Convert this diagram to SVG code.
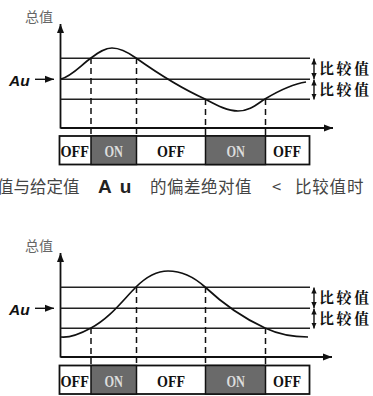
<svg xmlns="http://www.w3.org/2000/svg" width="373" height="396" viewBox="0 0 373 396">
<defs>
<marker id="ah" markerUnits="userSpaceOnUse" markerWidth="9" markerHeight="8" viewBox="0 0 9 8" refX="9" refY="4" orient="auto"><path d="M0,0.5 L9,4 L0,7.5 z" fill="#111"/></marker>
<marker id="sm" markerUnits="userSpaceOnUse" markerWidth="6" markerHeight="6" viewBox="0 0 6 6" refX="6" refY="3" orient="auto-start-reverse"><path d="M0,0.3 L6,3 L0,5.7 z" fill="#111"/></marker>
</defs>
<style>
.ax{stroke:#111;stroke-width:1.8;fill:none}
.hl{stroke:#222;stroke-width:1.5;fill:none}
.cv{stroke:#111;stroke-width:1.7;fill:none}
.ds{stroke:#111;stroke-width:1.5;stroke-dasharray:6 4;fill:none}
.da{stroke:#111;stroke-width:1.4;fill:none}
.yl{font-family:"Noto Sans CJK SC",sans-serif;font-size:14px;fill:#666}
.au{font-family:"Liberation Sans",sans-serif;font-size:15.5px;font-weight:bold;font-style:italic;fill:#111}
.cmp{font-family:"Noto Serif CJK SC","Noto Sans CJK SC",serif;font-size:15px;font-weight:bold;fill:#111;letter-spacing:2.5px}
.box{stroke:#111;stroke-width:1.8;fill:#fff}
.on{fill:#6a6a6a;stroke:#111;stroke-width:1.5}
.off{font-family:"Liberation Serif",serif;font-size:16px;font-weight:bold;fill:#111}
.ont{font-family:"Liberation Serif",serif;font-size:16px;font-weight:bold;fill:#ddd}
.mid{font-family:"Noto Sans CJK SC",sans-serif;font-size:16.5px;fill:#444}
</style>

<g id="diagram-top">
  <text class="yl" x="25" y="22">总值</text>
  <g id="axes-top">
    <line class="ax" x1="60.5" y1="128.5" x2="60.5" y2="24" marker-end="url(#ah)"/>
    <line class="ax" x1="60.5" y1="128" x2="333" y2="128" marker-end="url(#ah)"/>
  </g>
  <g id="levels-top">
    <line class="hl" x1="60.5" y1="58.3" x2="310" y2="58.3"/>
    <line class="hl" x1="60.5" y1="79.3" x2="310" y2="79.3"/>
    <line class="hl" x1="60.5" y1="99.3" x2="310" y2="99.3"/>
  </g>
  <path id="curve-top" class="cv" d="M61,79 C72,76 80,66 91,58 C99,52 105,48 112,48 C121,48 129,53 136,58 C160,75 185,90 205,99 C218,106 228,111 238,111 C250,111 257,104 265,99 C280,90 292,84 306,82"/>
  <g id="connectors-top">
    <line class="ds" x1="91" y1="58" x2="91" y2="136"/>
    <line class="ds" x1="136.5" y1="58" x2="136.5" y2="136"/>
    <line class="ds" x1="205.5" y1="99" x2="205.5" y2="136"/>
    <line class="ds" x1="265.5" y1="99" x2="265.5" y2="136"/>
    <line class="da" x1="35" y1="79.3" x2="54" y2="79.3" marker-end="url(#ah)"/>
    <line class="da" x1="314" y1="58.5" x2="314" y2="79" marker-start="url(#sm)" marker-end="url(#sm)"/>
    <line class="da" x1="314" y1="79.6" x2="314" y2="99.5" marker-start="url(#sm)" marker-end="url(#sm)"/>
  </g>
  <text id="au-top" class="au" x="9" y="86">Au</text>
  <text class="cmp" x="319" y="74">比较值</text>
  <text class="cmp" x="319" y="95">比较值</text>
  <g id="states-top">
    <rect class="box" x="59.5" y="136" width="250" height="28.5"/>
    <rect class="on" x="91" y="136" width="45.5" height="28.5"/>
    <rect class="on" x="205.5" y="136" width="60" height="28.5"/>
    <text class="off" x="60.5" y="156.5" textLength="28.5" lengthAdjust="spacingAndGlyphs">OFF</text>
    <text class="ont" x="104.5" y="156.5" textLength="18.5" lengthAdjust="spacingAndGlyphs">ON</text>
    <text class="off" x="157" y="156.5" textLength="28" lengthAdjust="spacingAndGlyphs">OFF</text>
    <text class="ont" x="226.5" y="156.5" textLength="18.5" lengthAdjust="spacingAndGlyphs">ON</text>
    <text class="off" x="273" y="156.5" textLength="28" lengthAdjust="spacingAndGlyphs">OFF</text>
  </g>
</g>

<g id="caption">
  <text class="mid" x="-3" y="193">值与给定值</text>
  <text x="98" y="193" font-family="Liberation Sans, sans-serif" font-size="19" font-weight="bold" fill="#222" letter-spacing="8">Au</text>
  <text class="mid" x="150" y="193" letter-spacing="0.5">的偏差绝对值</text>
  <text class="mid" x="272" y="193">&lt;</text>
  <text class="mid" x="295" y="193" letter-spacing="0.8">比较值时</text>
</g>

<g id="diagram-bottom" transform="translate(0,229)">
  <text class="yl" x="25" y="22">总值</text>
  <g id="axes-bottom">
    <line class="ax" x1="60.5" y1="128.5" x2="60.5" y2="24" marker-end="url(#ah)"/>
    <line class="ax" x1="60.5" y1="128" x2="332" y2="128" marker-end="url(#ah)"/>
  </g>
  <g id="levels-bottom">
    <line class="hl" x1="60.5" y1="58.3" x2="310" y2="58.3"/>
    <line class="hl" x1="60.5" y1="79.3" x2="310" y2="79.3"/>
    <line class="hl" x1="60.5" y1="99.3" x2="310" y2="99.3"/>
  </g>
  <path id="curve-bottom" class="cv" d="M61,108 C70,109 80,105 91,99 C110,89 123,71 136,58 C146,48 156,42 168,42 C181,42 194,48 205,58 C220,72 243,89 265,99 C280,106 295,108 308,108"/>
  <g id="connectors-bottom">
    <line class="ds" x1="91" y1="99" x2="91" y2="136"/>
    <line class="ds" x1="136.5" y1="58" x2="136.5" y2="136"/>
    <line class="ds" x1="205.5" y1="58" x2="205.5" y2="136"/>
    <line class="ds" x1="265.5" y1="99" x2="265.5" y2="136"/>
    <line class="da" x1="35" y1="79.3" x2="54" y2="79.3" marker-end="url(#ah)"/>
    <line class="da" x1="314" y1="58.5" x2="314" y2="79" marker-start="url(#sm)" marker-end="url(#sm)"/>
    <line class="da" x1="314" y1="79.6" x2="314" y2="99.5" marker-start="url(#sm)" marker-end="url(#sm)"/>
  </g>
  <text id="au-bottom" class="au" x="9" y="86">Au</text>
  <text class="cmp" x="319" y="74">比较值</text>
  <text class="cmp" x="319" y="95">比较值</text>
  <g id="states-bottom">
    <rect class="box" x="59.5" y="136.5" width="250" height="28.5"/>
    <rect class="on" x="91" y="136.5" width="45.5" height="28.5"/>
    <rect class="on" x="205.5" y="136.5" width="60" height="28.5"/>
    <text class="off" x="60.5" y="157.5" textLength="28.5" lengthAdjust="spacingAndGlyphs">OFF</text>
    <text class="ont" x="104.5" y="157.5" textLength="18.5" lengthAdjust="spacingAndGlyphs">ON</text>
    <text class="off" x="157" y="157.5" textLength="28" lengthAdjust="spacingAndGlyphs">OFF</text>
    <text class="ont" x="226.5" y="157.5" textLength="18.5" lengthAdjust="spacingAndGlyphs">ON</text>
    <text class="off" x="273" y="157.5" textLength="28" lengthAdjust="spacingAndGlyphs">OFF</text>
  </g>
</g>
</svg>
